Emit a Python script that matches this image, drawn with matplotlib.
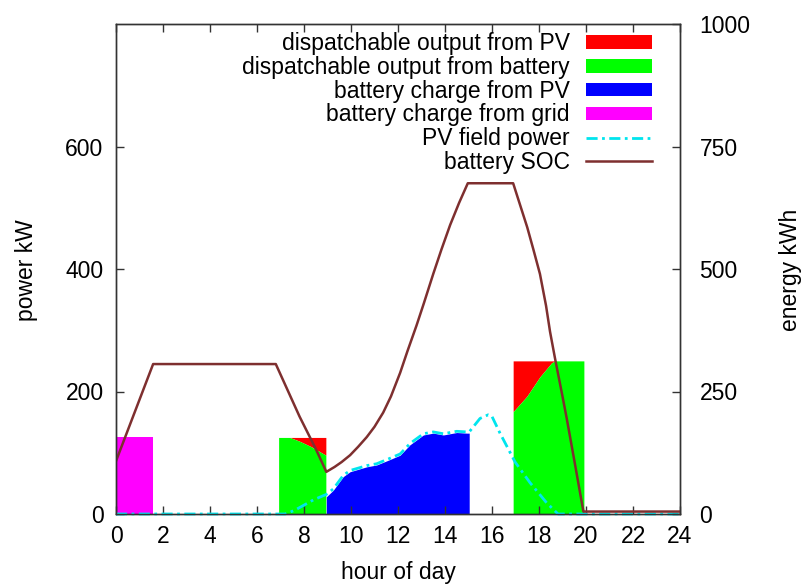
import matplotlib
matplotlib.use("Agg")
import matplotlib.pyplot as plt

plt.rcParams["font.family"] = ["Liberation Sans", "DejaVu Sans"]
plt.rcParams["font.size"] = 16.5

# battery charge from grid (kW)
grid_t = [0.0, 1.58]
grid_kw = [125, 125]

# morning dispatch block: battery share and PV share (kW)
morn_t = [6.92, 7.39, 7.8, 8.3, 8.93]
morn_bat = [125, 125, 119, 110, 96]
morn_pv = [0, 0, 6, 15, 29]

# evening dispatch block
eve_t = [16.9, 17.48, 18.04, 18.54, 18.69, 19.91]
eve_bat = [167, 192, 224, 247, 250, 250]
eve_pv = [83, 58, 26, 3, 0, 0]

# battery charge from PV (kW)
chg_t = [8.95, 9.25, 9.67, 9.96, 10.67, 11.09, 11.6, 12.09, 12.51, 13.08,
         13.5, 13.93, 14.5, 14.92, 15.03]
chg_kw = [28, 39, 61, 69, 77, 80, 88, 96, 113, 129, 132, 129, 133, 132, 132]

# PV field power (kW)
pv_t = [0.0, 7.2, 7.6, 8.4, 8.95, 9.25, 9.67, 9.96, 10.67, 11.09, 11.6, 12.09,
        12.51, 13.08, 13.5, 13.93, 14.5, 14.92, 15.03, 15.49, 15.84, 15.99,
        16.34, 16.98, 17.62, 18.33, 18.81, 24.0]
pv_kw = [0, 0, 6, 23, 32, 41, 63, 71, 79, 82, 90, 98, 115, 131, 134, 131,
         135, 134, 134, 156, 162, 160, 132, 85, 51, 18, 0, 0]

# battery state of charge (kWh)
soc_t = [0.0, 1.58, 6.8, 7.81, 8.52, 8.95, 9.3, 9.6, 9.96, 10.3, 10.67, 11.0,
         11.37, 11.7, 12.09, 12.4, 12.79, 13.1, 13.5, 13.85, 14.22, 14.6,
         14.97, 16.9, 17.2, 17.5, 17.76, 18.04, 18.3, 18.47, 18.68, 19.0,
         19.18, 19.5, 19.89, 24.0]
soc_kwh = [108, 306, 306, 199, 131, 86, 96, 106, 120, 137, 157, 178,
           207, 240, 288, 332, 385, 430, 490, 540, 590, 635,
           675, 675, 630, 585, 540, 490, 425, 372, 318, 240,
           195, 110, 5, 5]

RED, GREEN, BLUE, MAGENTA = "#ff0000", "#00ff00", "#0000ff", "#ff00ff"
CYAN, BROWN = "#00e5ee", "#7e2f2f"

fig = plt.figure(figsize=(8.02, 5.87), dpi=100)
ax = fig.add_axes([116 / 802, 73 / 587, 564 / 802, 490 / 587])

morn_top = [b + p for b, p in zip(morn_bat, morn_pv)]
eve_top = [b + p for b, p in zip(eve_bat, eve_pv)]

h_red = ax.fill_between(morn_t, morn_bat, morn_top, color=RED, lw=0,
                        label="dispatchable output from PV")
ax.fill_between(eve_t, eve_bat, eve_top, color=RED, lw=0)
h_green = ax.fill_between(morn_t, 0, morn_bat, color=GREEN, lw=0,
                          label="dispatchable output from battery")
ax.fill_between(eve_t, 0, eve_bat, color=GREEN, lw=0)
h_blue = ax.fill_between(chg_t, 0, chg_kw, color=BLUE, lw=0,
                         label="battery charge from PV")
h_mag = ax.fill_between(grid_t, 0, grid_kw, color=MAGENTA, lw=0,
                        label="battery charge from grid")
h_pv, = ax.plot(pv_t, pv_kw, color=CYAN, lw=2,
                linestyle=(0, (4, 1.6, 1, 1.6)), label="PV field power",
                zorder=3, clip_on=False)

ax.set_xlim(0, 24)
ax.set_ylim(0, 800)
ax.set_xticks(range(0, 25, 2))
ax.set_yticks([0, 200, 400, 600])

ax2 = ax.twinx()
h_soc, = ax2.plot(soc_t, soc_kwh, color=BROWN, lw=1.8, label="battery SOC")
ax2.set_ylim(0, 1000)
ax2.set_yticks([0, 250, 500, 750, 1000])

for a in (ax, ax2):
    for s in a.spines.values():
        s.set_color("#333333")
        s.set_linewidth(1.0)

ax.tick_params(axis="x", direction="in", length=6, width=1, pad=8,
               top=True, color="#333333")
ax.tick_params(axis="y", direction="in", length=6, width=1, pad=9,
               right=False, color="#333333")
ax2.tick_params(axis="y", direction="in", length=6, width=1, pad=14,
                color="#333333")

fig.text(398 / 802, 1 - 573 / 587, "hour of day", ha="center", va="center")
fig.text(27 / 802, 1 - 270 / 587, "power kW", rotation=90,
         ha="center", va="center")
fig.text(790 / 802, 1 - 270 / 587, "energy kWh", rotation=90,
         ha="center", va="center")

handles = [h_red, h_green, h_blue, h_mag, h_pv, h_soc]
leg = ax2.legend(handles=handles, loc="upper right",
                 bbox_to_anchor=(0.95, 0.983), borderaxespad=0, borderpad=0,
                 frameon=False, markerfirst=False, handlelength=2.85,
                 handleheight=0.53, handletextpad=0.72, labelspacing=0.03)

fig.savefig("out.png", dpi=100)
